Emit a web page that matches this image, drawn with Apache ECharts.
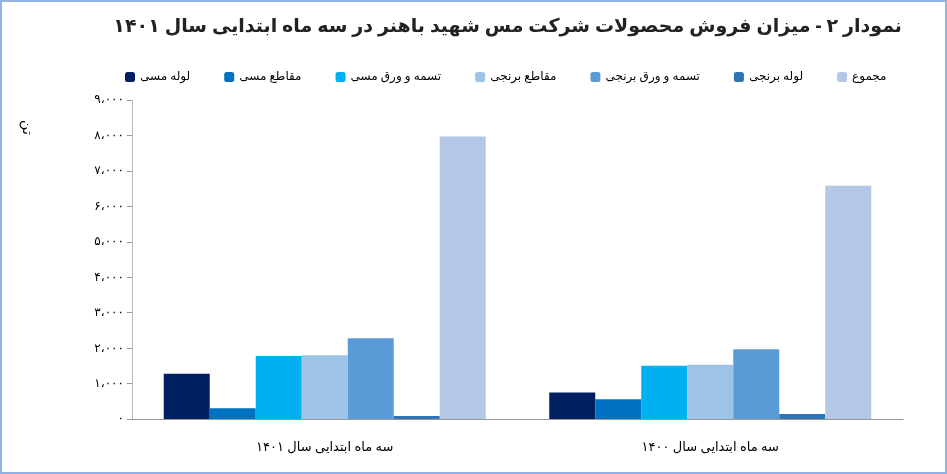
<!DOCTYPE html>
<html><head><meta charset="utf-8">
<script src="https://cdn.jsdelivr.net/npm/echarts@6/dist/echarts.min.js"></script>
<style>html,body{margin:0;padding:0;background:#fff}#c{width:947px;height:474px;box-sizing:border-box;border:2px solid #8fb4e3}</style>
</head><body><div id="c"></div>
<script>
// سری‌ها و مقادیر
var categories = ['سه ماه ابتدایی سال ۱۴۰۱', 'سه ماه ابتدایی سال ۱۴۰۰'];
var seriesNames = ['لوله مسی', 'مقاطع مسی', 'تسمه و ورق مسی', 'مقاطع برنجی', 'تسمه و ورق برنجی', 'لوله برنجی', 'مجموع'];
var seriesColors = ['#002060', '#0070c0', '#00b0f0', '#9dc3e6', '#5b9bd5', '#2e75b6', '#b4c7e7'];
var values = [
    [1280, 750],
    [305, 555],
    [1780, 1500],
    [1800, 1530],
    [2280, 1970],
    [85, 140],
    [7970, 6580]
];

function fa(n){
    var s = n === 0 ? '۰' : n.toLocaleString('en-US');
    return s.replace(/\d/g, function(d){ return '۰۱۲۳۴۵۶۷۸۹'[d]; }).replace(/,/g, '،');
}

var chart = echarts.init(document.getElementById('c'));
var series = [];
for (var i = 0; i < seriesNames.length; i++) {
    series.push({
        name: seriesNames[i],
        type: 'bar',
        barWidth: 46,
        barGap: '0%',
        itemStyle: {color: seriesColors[i]},
        data: values[i]
    });
}
var option = {
    textStyle: {fontFamily: 'Noto Sans, DejaVu Sans'},
    title: {
        text: 'نمودار ۲ - میزان فروش محصولات شرکت مس شهید باهنر در سه ماه ابتدایی سال ۱۴۰۱',
        right: 38, top: 10,
        textStyle: {fontSize: 19, fontWeight: 'bold', color: '#222'}
    },
    legend: {
        data: seriesNames,
        top: 64, left: 118,
        itemWidth: 10, itemHeight: 10, itemGap: 34,
        textStyle: {fontSize: 12, color: '#000'}
    },
    graphic: [{
        type: 'text', left: 18, top: 118, rotation: -Math.PI / 2,
        style: {text: 'تن', fontSize: 14, fill: '#000'}
    }],
    grid: {left: 130, right: 42, top: 98, bottom: 53},
    xAxis: {
        type: 'category',
        data: categories,
        axisLine: {lineStyle: {color: '#999'}},
        axisTick: {length: 40, lineStyle: {color: '#bbb'}},
        axisLabel: {fontSize: 13, color: '#000', margin: 22}
    },
    yAxis: {
        type: 'value',
        min: 0, max: 9000, interval: 1000,
        splitLine: {show: false},
        axisLine: {show: true, lineStyle: {color: '#bbb'}},
        axisTick: {show: true, lineStyle: {color: '#999'}},
        axisLabel: {fontSize: 12, color: '#000', formatter: fa}
    },
    series: series
};
chart.setOption(option);
</script></body></html>
